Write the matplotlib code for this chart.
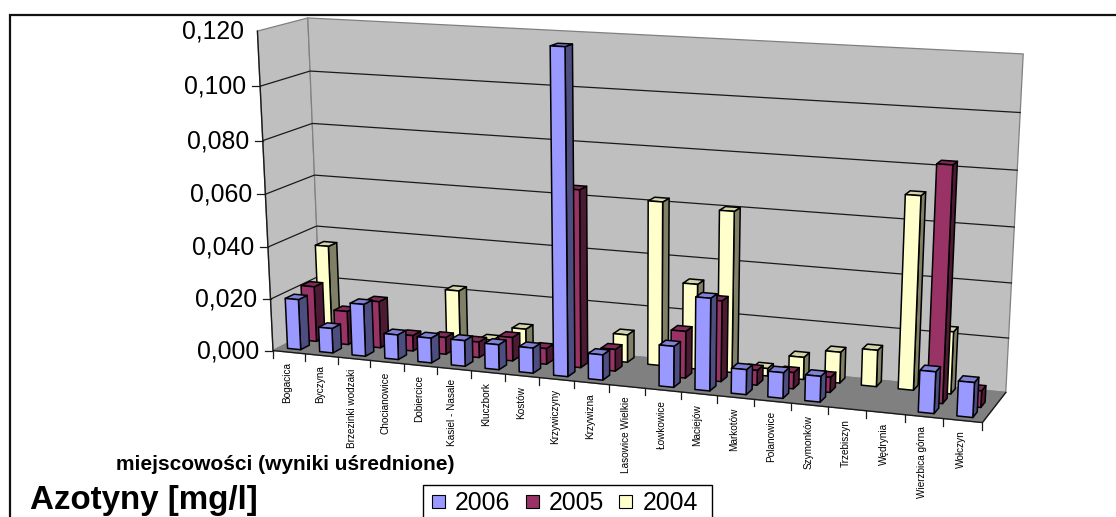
import numpy as np
import matplotlib
matplotlib.use("Agg")
import matplotlib.pyplot as plt
from matplotlib.patches import Polygon, Patch, Rectangle

plt.rcParams['font.family'] = ['Liberation Sans', 'DejaVu Sans']

towns = ["Bogacica", "Byczyna", "Brzezinki wodzaki", "Chocianowice", "Dobiercice",
         "Kasiel - Nasale", "Kluczbork", "Kostów", "Krzywiczyny", "Krzywizna",
         "Lasowice Wielkie", "Łowkowice", "Maciejów", "Markotów", "Polanowice",
         "Szymonków", "Trzebiszyn", "Wędrynia", "Wierzbica górna", "Wołczyn"]
values_2006 = [0.0195, 0.0095, 0.0200, 0.0095, 0.0095, 0.0098, 0.0095, 0.0095, 0.1195, 0.0095,
               0.0, 0.0152, 0.0340, 0.0092, 0.0094, 0.0094, 0.0, 0.0, 0.0150, 0.0125]
values_2005 = [0.0215, 0.0130, 0.0180, 0.0060, 0.0065, 0.0060, 0.0090, 0.0060, 0.0665, 0.0082,
               0.0, 0.0175, 0.0300, 0.0055, 0.0060, 0.0056, 0.0, 0.0, 0.0845, 0.0060]
values_2004 = [0.0345, 0.0, 0.0, 0.0, 0.0215, 0.0035, 0.0090, 0.0, 0.0, 0.0105,
               0.0615, 0.0320, 0.0600, 0.0028, 0.0083, 0.0115, 0.0135, 0.0705, 0.0228, 0.0]
years = ["2006", "2005", "2004"]
value_ticks = [0.0, 0.02, 0.04, 0.06, 0.08, 0.10, 0.12]

VMAX = 0.12
N = len(towns)

# Face colours per series: front, side, top
FACES = {
    "2006": ("#9999FF", "#4D4D80", "#8080D5"),
    "2005": ("#993366", "#4D1A33", "#802B55"),
    "2004": ("#FFFFCC", "#808066", "#D5D5AA"),
}
# Depth slot of each series along the floor (0 = front, 1 = back)
DEPTHS = {"2006": (0.12, 0.30), "2005": (0.45, 0.63), "2004": (0.78, 0.96)}
BAR_X = (0.27, 0.68)

# Camera of the 3-D box, solved from where its edges fall on the canvas
anchors = [
    (0, 0, 0.00, 273, 350), (0, 0, 0.02, 271, 299), (0, 0, 0.04, 268, 247), (0, 0, 0.06, 266, 194),
    (0, 0, 0.08, 263, 141), (0, 0, 0.10, 259, 86), (0, 0, 0.12, 257, 32),
    (0, 1, 0.00, 321, 328), (0, 1, 0.02, 318, 277), (0, 1, 0.04, 317, 225), (0, 1, 0.06, 314, 174),
    (0, 1, 0.08, 312, 123), (0, 1, 0.10, 311, 71), (0, 1, 0.12, 308, 18),
    (N, 1, 0.00, 1006, 392), (N, 1, 0.02, 1008, 338), (N, 1, 0.04, 1011, 283), (N, 1, 0.06, 1014, 227),
    (N, 1, 0.08, 1018, 170), (N, 1, 0.10, 1020, 113), (N, 1, 0.12, 1023.5, 54),
    (N, 0, 0.00, 983, 423), (5, 0, 0.00, 437, 367), (10, 0, 0.00, 609, 384.5), (15, 0, 0.00, 791, 403),
]
rows, rhs = [], []
for x, z, v, u, w in anchors:
    X = np.array([x / N, z, v / VMAX, 1.0])
    rows.append(np.r_[X, np.zeros(4), -u * X[:3]])
    rhs.append(u)
    rows.append(np.r_[np.zeros(4), X, -w * X[:3]])
    rhs.append(w)
sol = np.linalg.lstsq(np.array(rows), np.array(rhs), rcond=None)[0]
CAM = np.r_[sol, 1.0].reshape(3, 4)


def project(x, z, v):
    h = CAM @ np.array([x / N, z, v / VMAX, 1.0])
    return h[0] / h[2], h[1] / h[2]


fig = plt.figure(figsize=(11.16, 5.17), dpi=100, facecolor="white")
ax = fig.add_axes([0, 0, 1, 1])
ax.set_xlim(0, 1116)
ax.set_ylim(517, 0)
ax.axis("off")

# Outer chart border: only top and left fall on the canvas
ax.plot([10, 10, 1116], [517, 14.5, 14.5], color="#111111", lw=1.6, solid_joinstyle="miter", zorder=1)


def quad(points, face, edge, lw=1.1, z=2):
    ax.add_patch(Polygon(points, closed=True, facecolor=face, edgecolor=edge, lw=lw,
                         joinstyle="round", zorder=z))


# Walls and floor
WALL = "#BFBFBF"
quad([project(0, 0, 0), project(0, 1, 0), project(0, 1, VMAX), project(0, 0, VMAX)], WALL, "#808080", lw=0.9)
quad([project(0, 1, 0), project(N, 1, 0), project(N, 1, VMAX), project(0, 1, VMAX)], WALL, "#808080", lw=0.9)
quad([project(0, 0, 0), project(N, 0, 0), project(N, 1, 0), project(0, 1, 0)], "#808080", "#808080", lw=0.9)

for v in value_ticks[1:-1]:
    pts = [project(0, 0, v), project(0, 1, v), project(N, 1, v)]
    ax.plot(*zip(*pts), color="#1A1A1A", lw=0.9, zorder=2.5)

ax.plot(*zip(project(0, 0, VMAX), project(0, 0, 0), project(N, 0, 0), project(N, 1, 0)),
        color="#1A1A1A", lw=1.0, zorder=2.6)

# Value axis
for v in value_ticks:
    px, py = project(0, 0, v)
    if v < VMAX:
        ax.plot([px - 8, px], [py, py], color="#1A1A1A", lw=0.9, zorder=2.6)
    ax.text(px - 13.5, py + 0.5, f"{v:.3f}".replace(".", ","), ha="right", va="center",
            fontsize=17.8, color="black")

# Category axis
for i in range(N + 1):
    px, py = project(i, 0, 0)
    ax.plot([px, px], [py, py + 7], color="#1A1A1A", lw=0.9, zorder=2.6)
for i, name in enumerate(towns):
    px, py = project(i + 0.5, 0, 0)
    ax.text(px - 1.5, py + 10, name, rotation=90, ha="center", va="top", fontsize=7.2, color="black")


def bar(i, year, v):
    front, side, top = FACES[year]
    z0, z1 = DEPTHS[year]
    x0, x1 = i + BAR_X[0], i + BAR_X[1]
    quad([project(x1, z0, 0), project(x1, z1, 0), project(x1, z1, v), project(x1, z0, v)], side, "black", z=3)
    quad([project(x0, z0, v), project(x1, z0, v), project(x1, z1, v), project(x0, z1, v)], top, "black", z=3)
    quad([project(x0, z0, 0), project(x1, z0, 0), project(x1, z0, v), project(x0, z0, v)], front, "black", z=3)


# Painted from the back series forward, so nearer bars cover farther ones
for year, series in (("2004", values_2004), ("2005", values_2005), ("2006", values_2006)):
    for i, v in enumerate(series):
        if v > 0:
            bar(i, year, v)

ax.text(116, 464, "miejscowości (wyniki uśrednione)", fontsize=15, fontweight="bold",
        ha="left", va="center", color="black")
ax.text(29.5, 501, "Azotyny [mg/l]", fontsize=23.9, fontweight="bold", ha="left", va="center", color="black")

# Legend box runs past the lower canvas edge
ax.add_patch(Rectangle((423, 485), 289, 50, facecolor="white", edgecolor="black", lw=1.0, zorder=4))
handles = [Patch(facecolor=FACES[y][0], edgecolor="black", lw=0.8) for y in years]
leg = ax.legend(handles, years, ncol=3, loc="upper left", bbox_to_anchor=(432 / 1116, 1 - 491 / 517),
                bbox_transform=ax.transAxes, borderaxespad=0, frameon=False,
                fontsize=17.8, handlelength=0.53, handleheight=0.45, handletextpad=0.4,
                columnspacing=0.62, borderpad=0)
leg.set_zorder(5)

fig.savefig("out.png", dpi=100)
